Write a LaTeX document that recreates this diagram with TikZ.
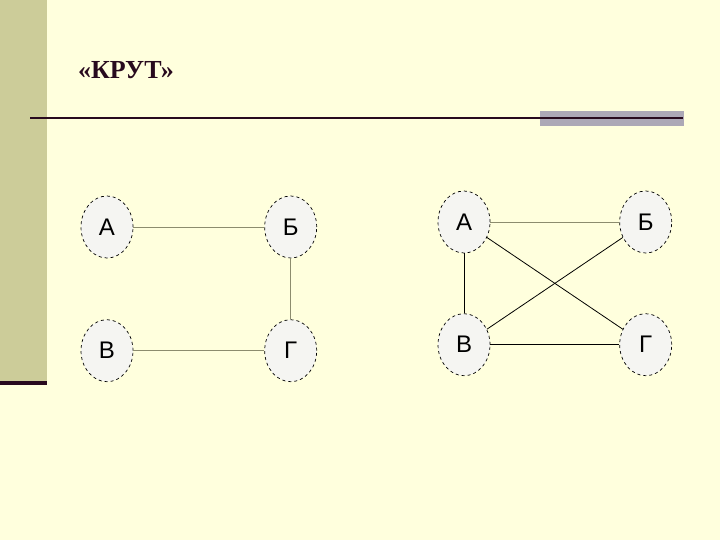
\documentclass[tikz,border=0pt]{standalone}
\usepackage{fontspec}
\setmainfont{Liberation Serif}
\newfontfamily\graffont{Liberation Sans}
\usepackage{tikz}
\usetikzlibrary{positioning,shapes.geometric}
\definecolor{slidebg}{RGB}{255,255,221}
\definecolor{stripolive}{RGB}{204,204,153}
\definecolor{darkplum}{RGB}{40,10,30}
\definecolor{bargray}{RGB}{172,168,182}
\definecolor{edgeolive}{RGB}{140,140,110}
\definecolor{nodefill}{RGB}{245,245,242}

\begin{document}
\begin{tikzpicture}[x=1pt,y=-1pt,
  vert/.style={draw,dashed,ellipse,fill=nodefill,line width=0.7pt,minimum width=52pt,minimum height=62pt,font=\graffont\fontsize{24}{24}\selectfont},
  edge/.style={line width=0.8pt}]
  % slide background
  \fill[slidebg] (0,0) rectangle (720,540);
  \useasboundingbox (0,0) rectangle (720,540);
  \fill[stripolive] (0,0) rectangle (47,381);
  \fill[darkplum] (0,381) rectangle (47,385);
  \fill[bargray] (540,111) rectangle (684,126);
  \draw[darkplum,line width=2pt] (30,118) -- (683,118);
  \node[font=\bfseries\fontsize{26}{26}\selectfont,text=darkplum] (title) at (126,70) {«КРУТ»};

  % left graph
  \node[vert] (la) at (107,227) {А};
  \node[vert,right=131pt of la] (lb) {Б};
  \node[vert,below=61pt of la] (lv) {В};
  \node[vert,right=131pt of lv] (lg) {Г};
  \draw[edge,edgeolive] (la) -- (lb); \draw[edge,edgeolive] (lb) -- (lg); \draw[edge,edgeolive] (lv) -- (lg);

  % right graph
  \node[vert] (ra) at (464,222) {А};
  \node[vert,right=129pt of ra] (rb) {Б};
  \node[vert,below=60pt of ra] (rv) {В};
  \node[vert,right=129pt of rv] (rg) {Г};
  \draw[edge,edgeolive] (ra) -- (rb); \draw[edge] (ra) -- (rv); \draw[edge] (ra) -- (rg);
  \draw[edge] (rb) -- (rv); \draw[edge] (rv) -- (rg);
\end{tikzpicture}
\end{document}
